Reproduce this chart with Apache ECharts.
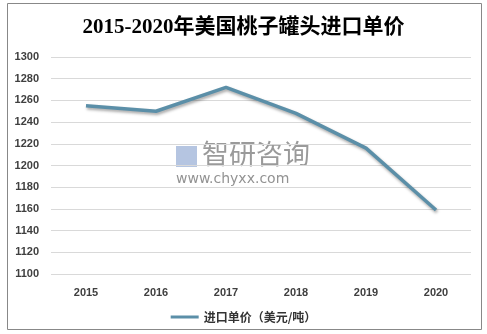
<!DOCTYPE html>
<html><head><meta charset="utf-8">
<script src="https://cdn.jsdelivr.net/npm/echarts@6/dist/echarts.min.js"></script>
<style>html,body{margin:0;padding:0;background:#fff}#c{width:487px;height:334px}</style>
</head><body><div id="c"></div>
<script>
const titleText = '2015-2020年美国桃子罐头进口单价';
const categories = ['2015','2016','2017','2018','2019','2020'];
const seriesName = '进口单价（美元/吨）';
const values = [1255, 1250, 1272, 1248, 1216, 1159];
const yMin = 1100, yMax = 1300, yStep = 20;

const chart = echarts.init(document.getElementById('c'));
chart.setOption({
  animation: false,
  backgroundColor: '#fff',
  title: {
    text: titleText, left: 'center', top: 12,
    textStyle: {fontFamily: 'Liberation Serif, DejaVu Serif, Noto Sans CJK SC', fontSize: 21, fontWeight: 'bold', color: '#000'}
  },
  graphic: [
    {type: 'rect', shape: {x: 7.5, y: 3.5, width: 474, height: 326}, style: {fill: 'none', stroke: '#888', lineWidth: 1}, z: -1},
    {type: 'rect', shape: {x: 176, y: 146, width: 21, height: 21}, style: {fill: 'rgba(120,150,200,0.55)'}, z: 0},
    {type: 'text', left: 202, top: 140, style: {text: '智研咨询', font: '27px "Noto Sans CJK SC"', fill: 'rgba(120,120,120,0.75)'}, z: 0},
    {type: 'text', left: 176, top: 172, style: {text: 'www.chyxx.com', font: '14px "DejaVu Sans"', fill: 'rgba(110,110,110,0.75)', letterSpacing: 3.2}, z: 0}
  ],
  grid: {left: 51, right: 16, top: 57, bottom: 60},
  xAxis: {
    type: 'category', data: categories, boundaryGap: true,
    axisLine: {show: false}, axisTick: {show: false},
    axisLabel: {color: '#404040', fontWeight: 'bold', fontSize: 11, fontFamily: 'Liberation Sans, Arial', margin: 13}
  },
  yAxis: {
    type: 'value', min: yMin, max: yMax, interval: yStep,
    axisLine: {show: false}, axisTick: {show: false},
    splitLine: {lineStyle: {color: '#d9d9d9', width: 1}},
    axisLabel: {color: '#404040', fontSize: 11, fontWeight: 'bold', fontFamily: 'Liberation Sans, Arial', margin: 12, formatter: v => String(v)}
  },
  legend: {
    bottom: 6, left: 'center', itemWidth: 28, itemHeight: 3, itemGap: 4,
    icon: 'rect',
    textStyle: {color: '#333', fontSize: 12, fontWeight: 'bold', fontFamily: 'Noto Sans CJK SC'},
    data: [seriesName]
  },
  series: [{
    name: seriesName, type: 'line', data: values, symbol: 'none',
    lineStyle: {color: '#5b8fa8', width: 3.5, shadowColor: 'rgba(0,0,0,0.35)', shadowBlur: 3, shadowOffsetY: 2, shadowOffsetX: 1},
    itemStyle: {color: '#5b8fa8'}
  }]
});
</script></body></html>
